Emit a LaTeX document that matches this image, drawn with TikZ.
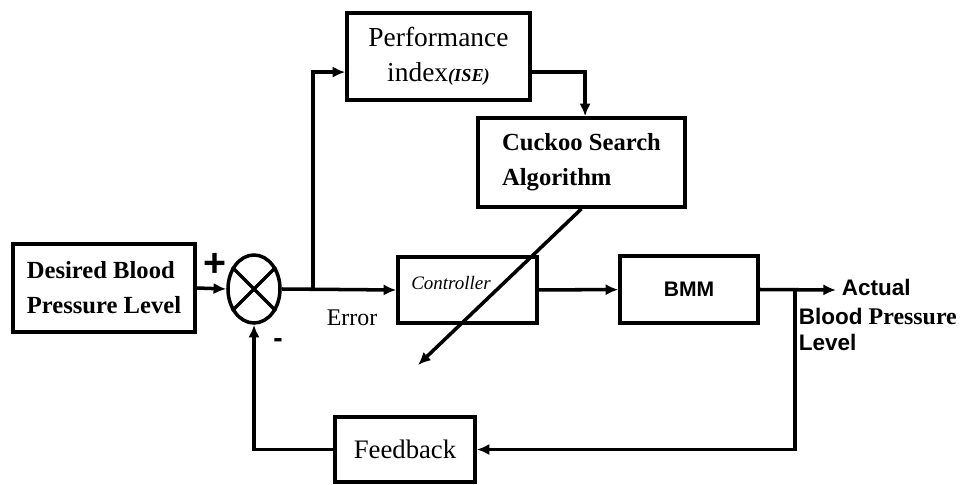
\documentclass[tikz,border=0pt]{standalone}
\usepackage{fontspec}
\setmainfont{Liberation Serif}
\setsansfont{Liberation Sans}
\usetikzlibrary{arrows.meta,positioning,calc,shapes.geometric}

\begin{document}
\begin{tikzpicture}[x=0.025cm,y=-0.025cm,line width=2.5pt,
  blk/.style={draw,rectangle,inner sep=0pt,align=center},
  arr/.style={-{Latex[length=9pt,width=8pt]}},
  lbl/.style={inner sep=0pt,anchor=west,font=\sffamily\bfseries\fontsize{16}{18}\selectfont}]
\useasboundingbox (0,0) rectangle (967,485);
\node[blk,minimum width=4.55cm,minimum height=2.2cm,align=left,font=\fontsize{17.5}{25}\selectfont\bfseries] (des) at (104,288) {Desired Blood\\Pressure Level};
\node[draw,ellipse,minimum width=1.3cm,minimum height=1.7cm,inner sep=0pt] (sum) at (254,289) {};
\draw (sum.45) -- (sum.-135) (sum.135) -- (sum.-45);
\node[blk,minimum width=4.575cm,minimum height=2.175cm,font=\fontsize{19.5}{25}\selectfont] (perf) at (438.5,56.5) {Performance\\index{\fontsize{13}{15}\selectfont\bfseries\itshape(ISE)}};
\node[blk,minimum width=5.175cm,minimum height=2.225cm,align=left,font=\fontsize{17.5}{25}\selectfont\bfseries] (csa) at (581.5,162.5) {Cuckoo Search\\Algorithm};
\node[blk,minimum width=3.475cm,minimum height=1.65cm] (ctrl) at (467.5,290) {};
\node[font=\fontsize{13.5}{15}\selectfont\itshape] (ctrltxt) at (451,283) {Controller};
\node[blk,minimum width=3.45cm,minimum height=1.675cm,font=\sffamily\bfseries\fontsize{15}{18}\selectfont] (bmm) at (689,289.5) {BMM};
\node[blk,minimum width=3.5cm,minimum height=1.625cm,font=\fontsize{19}{22}\selectfont] (fb) at (405,449.5) {Feedback};
% signs and labels
\node[font=\sffamily\bfseries\fontsize{28}{28}\selectfont] (plus) at (215,265) {+};
\node[font=\sffamily\bfseries\fontsize{20}{20}\selectfont] (minus) at (278,343) {-};
\node[font=\fontsize{17}{20}\selectfont] (err) at (352,318) {Error};
\node[lbl] (act) at (840,287) {Actual};
\node[lbl] (bpl) at (797,316) {Blood {\rmfamily\bfseries\fontsize{17}{18}\selectfont Pressure}};
\node[lbl] (lvl) at (797,342) {Level};
% connectors
\coordinate (br1) at (313,290);
\coordinate (pin) at ([yshift=-0.39cm]perf.west);
\coordinate (pout) at ([yshift=-0.39cm]perf.east);
\coordinate (tip) at (418,365);
\coordinate (out) at (836,290);
\coordinate (br2) at (795,290);
\draw[arr] (des.east) -- (sum.west);
\draw[arr] (sum.east) -- (ctrl.west);
\draw[arr] (br1) |- (pin);
\draw[arr] (pout) -| ([xshift=0.09cm]csa.north);
\draw[arr] (csa.south) -- (tip);
\draw[arr] (ctrl) -- (bmm);
\draw[arr] (bmm.east) -- (out);
\draw[arr] (br2) |- (fb.east);
\draw[arr] (fb.west) -| (sum.south);
\end{tikzpicture}
\end{document}
